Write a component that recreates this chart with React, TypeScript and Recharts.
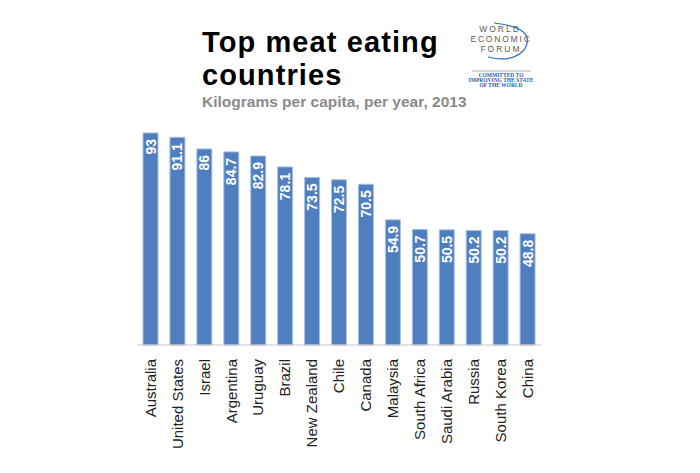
import { BarChart, Bar, XAxis, YAxis, LabelList } from 'recharts';

const countries = [
    'Australia', 'United States', 'Israel', 'Argentina', 'Uruguay', 'Brazil', 'New Zealand',
    'Chile', 'Canada', 'Malaysia', 'South Africa', 'Saudi Arabia', 'Russia', 'South Korea', 'China',
];
const kgPerCapita = [93, 91.1, 86, 84.7, 82.9, 78.1, 73.5, 72.5, 70.5, 54.9, 50.7, 50.5, 50.2, 50.2, 48.8];

const data = countries.map((name, i) => ({ name, value: kgPerCapita[i] }));

const FONT = "'Liberation Sans', Arial, Helvetica, sans-serif";

const CountryTick = (props: any) => {
    const { x, y, payload } = props;
    return (
        <text
            x={x}
            y={y}
            transform={`rotate(-90 ${x} ${y})`}
            textAnchor="end"
            dy="0.35em"
            fontSize={15}
            fontFamily={FONT}
            fill="#222"
        >
            {payload.value}
        </text>
    );
};

const ValueLabel = (props: any) => {
    const { x, y, width, value } = props;
    const cx = x + width / 2;
    const cy = y + 6;
    return (
        <text
            x={cx}
            y={cy}
            transform={`rotate(-90 ${cx} ${cy})`}
            textAnchor="end"
            dy="0.36em"
            fontSize={14}
            fontWeight="bold"
            fontFamily={FONT}
            fill="#fff"
        >
            {value}
        </text>
    );
};

export default function App() {
    return (
        <div style={{ position: 'absolute', left: 0, top: 0, width: 700, height: 473, background: '#fff' }}>
            <BarChart
                width={700}
                height={473}
                data={data}
                margin={{ top: 117, right: 159, left: 137, bottom: 0 }}
            >
                <XAxis
                    dataKey="name"
                    interval={0}
                    height={128}
                    tickSize={0}
                    tickMargin={14}
                    tickLine={false}
                    axisLine={{ stroke: '#c8c8c8' }}
                    tick={<CountryTick />}
                />
                <YAxis hide domain={[0, 100]} />
                <Bar dataKey="value" fill="#4f7fbf" stroke="#a9c1e3" strokeWidth={1} barSize={15} isAnimationActive={false}>
                    <LabelList dataKey="value" content={<ValueLabel />} />
                </Bar>
            </BarChart>

            {/* title */}
            <div
                style={{
                    position: 'absolute',
                    left: 202,
                    top: 26,
                    fontFamily: FONT,
                    fontWeight: 'bold',
                    fontSize: 29,
                    letterSpacing: 1.1,
                    lineHeight: '33px',
                    color: '#000',
                    whiteSpace: 'nowrap',
                }}
            >
                Top meat eating
                <br />
                countries
            </div>

            {/* subtitle and logo */}
            <svg width={700} height={120} style={{ position: 'absolute', left: 0, top: 0, pointerEvents: 'none' }}>
                <text x={202} y={107} fontFamily={FONT} fontWeight="bold" fontSize={15.5} fill="#8a8a8a">Kilograms per capita, per year, 2013</text>

                <g fontFamily={FONT} fill="#5a5a5a" textAnchor="middle" fontSize={8.5}>
                    <text x={500} y={32} letterSpacing={2}>WORLD</text>
                    <text x={501} y={42} letterSpacing={1.8}>ECONOMIC</text>
                    <text x={501} y={52} letterSpacing={2}>FORUM</text>
                </g>
                <path d="M 494 23 Q 538 28 524 50 Q 512 63 488 57" fill="none" stroke="#2f6db5" strokeWidth={1.2} />
                <line x1={472} y1={71} x2={531} y2={71} stroke="#b0b0b0" strokeWidth={1} />
                <g fontFamily="'Liberation Serif', 'DejaVu Serif', serif" fontWeight="bold" fill="#1f5fa8" textAnchor="middle" fontSize={5.5}>
                    <text x={501} y={77}>COMMITTED TO</text>
                    <text x={501} y={82}>IMPROVING THE STATE</text>
                    <text x={501} y={87}>OF THE WORLD</text>
                </g>
            </svg>
        </div>
    );
}
